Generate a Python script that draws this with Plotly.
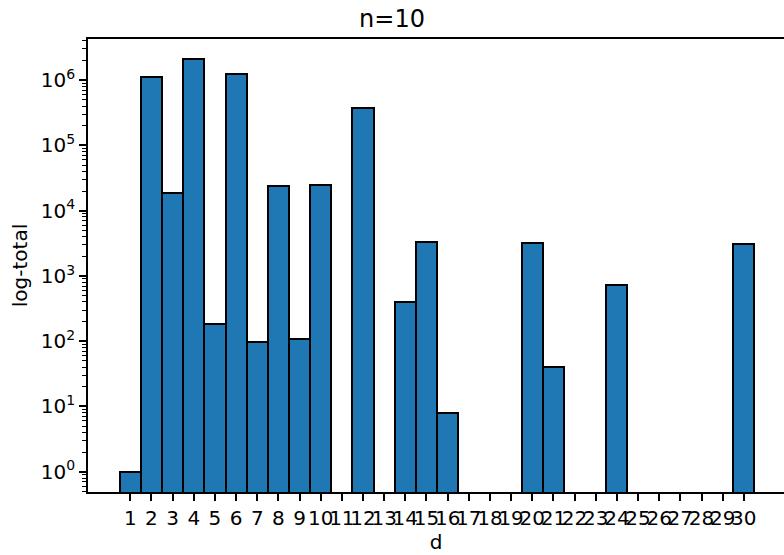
import plotly.graph_objects as go

d_values = list(range(1, 31))
totals = [1, 1.13e6, 1.85e4, 2.09e6, 185, 1.23e6, 98, 2.4e4, 108, 2.48e4,
          0, 3.72e5, 0, 405, 3.33e3, 8, 0, 0, 0, 3.25e3,
          40, 0, 0, 731, 0, 0, 0, 0, 0, 3.13e3]
tick_labels = [str(v) for v in d_values]
y_tick_vals = [1, 10, 100, 1e3, 1e4, 1e5, 1e6]
y_tick_text = ["10<sup>%d</sup>" % k for k in range(7)]

plot_y = [v if v > 0 else None for v in totals]
minor_vals = [m * 10 ** k for k in range(-1, 7) for m in range(2, 10)]

FONT = "DejaVu Sans"
fig = go.Figure(go.Bar(
    x=d_values, y=plot_y, width=1.0,
    marker=dict(color="#1f77b4", line=dict(color="black", width=2)),
))
fig.update_layout(
    width=784, height=555,
    margin=dict(l=88, r=0, t=39, b=63, autoexpand=False),
    paper_bgcolor="white", plot_bgcolor="white",
    font=dict(family=FONT, size=20, color="black"),
    title=dict(text="n=10", x=0.5, xanchor="center", y=1 - 18.5 / 555, yanchor="middle",
               font=dict(size=24, family=FONT)),
    showlegend=False, bargap=0,
)
fig.update_xaxes(
    automargin=False,
    range=[-1.0, 31.9], tickmode="array", tickvals=d_values, ticktext=tick_labels,
    tickangle=0, ticks="outside", ticklen=7, tickwidth=1.6, tickcolor="black",
    showline=True, linecolor="black", linewidth=1.6, mirror=True,
    showgrid=False, zeroline=False,
    title=dict(text="d", font=dict(size=20), standoff=6),
)
fig.update_yaxes(
    automargin=False,
    type="log", range=[-0.311, 6.63], tickmode="array", tickvals=y_tick_vals,
    ticktext=y_tick_text, ticks="outside", ticklen=7, tickwidth=1.6, tickcolor="black",
    showline=True, linecolor="black", linewidth=1.6, mirror=False,
    showgrid=False, zeroline=False,
    minor=dict(tickmode="array", tickvals=minor_vals, ticks="outside", ticklen=4,
               tickwidth=1.2, tickcolor="black", showgrid=False),
    title=dict(text="log-total", font=dict(size=20), standoff=8),
)
fig.write_html("out.html", config={"displayModeBar": False},
               post_script="document.body.style.margin='0';")
